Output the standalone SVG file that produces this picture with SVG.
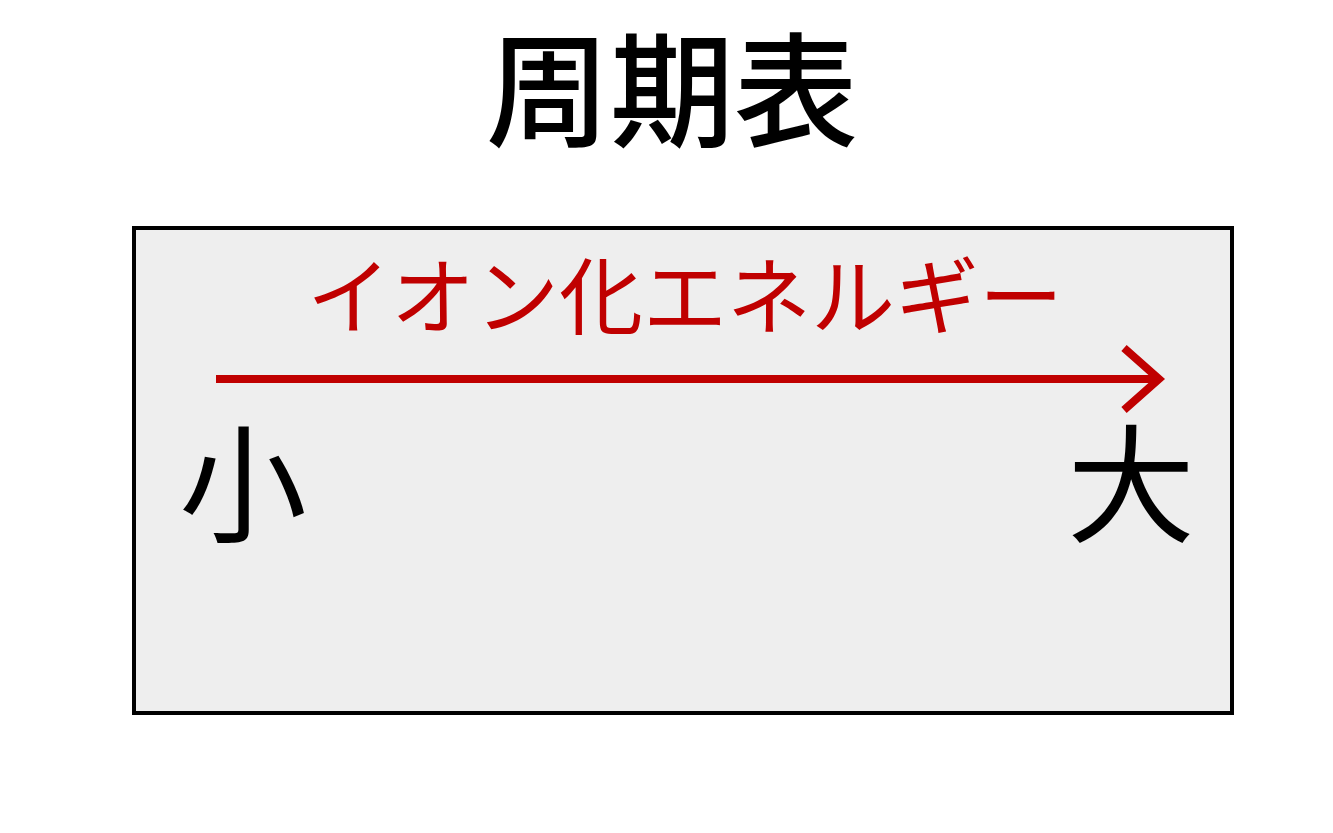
<svg xmlns="http://www.w3.org/2000/svg" width="1333" height="833" viewBox="0 0 1333 833">
<style>
.jp{font-family:"Noto Sans CJK JP","Noto Sans CJK SC",sans-serif;}
.title{font-size:124px;font-weight:500;fill:#000;}
.label{font-size:84px;fill:#C00000;}
.end{font-size:128px;fill:#000;}
.arrow{stroke:#C00000;stroke-width:8;fill:none;}
</style>
<rect width="1333" height="833" fill="#fff"/>
<g id="title"><text class="jp title" x="672" y="137" text-anchor="middle">周期表</text></g>
<g id="panel"><rect x="134" y="228" width="1098" height="485" fill="#EEEEEE" stroke="#000" stroke-width="4"/></g>
<g id="connectors">
<line class="arrow" x1="216" y1="379" x2="1158" y2="379"/>
<polyline class="arrow" points="1124,348 1159,379 1124,410" stroke-linecap="butt" stroke-linejoin="miter"/>
</g>
<g id="energy-label"><text class="jp label" x="685" y="328" text-anchor="middle">イオン化エネルギー</text></g>
<g id="small"><text class="jp end" x="243" y="533" text-anchor="middle">小</text></g>
<g id="large"><text class="jp end" x="1131" y="533" text-anchor="middle">大</text></g>
</svg>
